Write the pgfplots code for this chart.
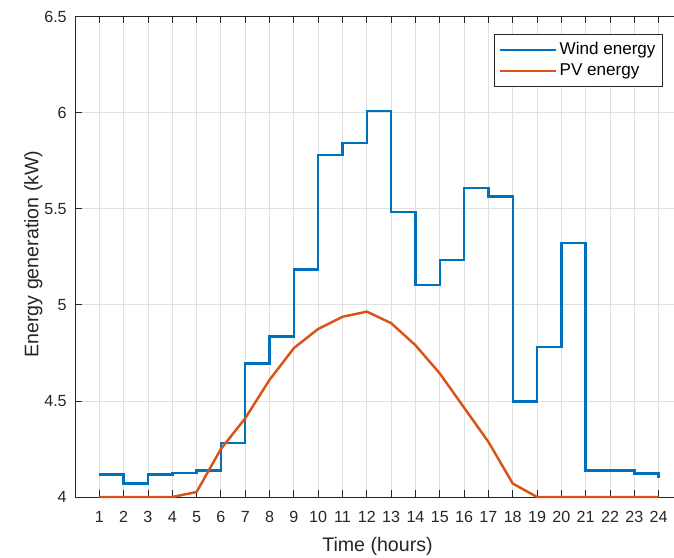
\documentclass[border=0pt]{standalone}
\usepackage{fontspec}
\setmainfont{Liberation Sans}
\usepackage{pgfplots}
\pgfplotsset{compat=1.18}

\definecolor{windblue}{rgb}{0,0.447,0.741}
\definecolor{pvorange}{rgb}{0.85,0.325,0.098}
\definecolor{axgray}{rgb}{0.15,0.15,0.15}
\definecolor{gridgray}{rgb}{0.88,0.88,0.88}

% hourly generation profiles
\pgfplotstableread{
hour wind pv
1  4.117 4.000
2  4.070 4.000
3  4.117 4.000
4  4.125 4.000
5  4.137 4.026
6  4.280 4.250
7  4.696 4.410
8  4.836 4.610
9  5.184 4.775
10 5.781 4.875
11 5.842 4.938
12 6.010 4.965
13 5.484 4.905
14 5.103 4.790
15 5.233 4.643
16 5.608 4.465
17 5.565 4.287
18 4.498 4.070
19 4.781 4.000
20 5.323 4.000
21 4.139 4.000
22 4.139 4.000
23 4.123 4.000
24 4.100 4.000
}\energydata

\begin{document}
\begin{tikzpicture}
\begin{axis}[
  scale only axis,
  width=434.1pt, height=342.9pt,
  xmin=0, xmax=25, ymin=4, ymax=6.5,
  clip=false,
  xtick={1,...,24},
  ytick={4,4.5,5,5.5,6,6.5},
  /pgf/number format/assume math mode=true,
  yticklabel style={/pgf/number format/fixed},
  tick align=inside,
  xtick pos=both, ytick pos=both,
  xticklabel pos=lower, yticklabel pos=left,
  major tick length=4.8pt,
  axis line style={axgray, line width=0.6pt},
  tick style={axgray, line width=0.6pt},
  grid=major,
  major grid style={gridgray, line width=0.6pt},
  ticklabel style={font=\fontsize{11.5}{13.8}\selectfont, text=axgray},
  xticklabel style={yshift=-6.5pt},
  yticklabel style={xshift=-2.4pt},
  xlabel={Time (hours)},
  ylabel={Energy generation (kW)},
  label style={font=\fontsize{14}{16.8}\selectfont, text=axgray},
  xlabel style={at={(axis description cs:0.4975,-0.1137)}, anchor=base},
  ylabel style={at={(axis description cs:-0.0604,0.506)}, anchor=base},
  legend style={
    at={(axis description cs:0.9671,0.9646)}, anchor=north east,
    draw=axgray, line width=0.6pt, fill=white,
    font=\fontsize{12.2}{14.6}\selectfont,
    inner xsep=3pt, inner ysep=4pt,
    row sep=1pt,
    cells={anchor=west},
  },
  legend image code/.code={\draw[#1] (0pt,0pt) -- (40pt,0pt);},
]
\addplot[const plot, windblue, line width=1.75pt, line join=miter] table[x=hour, y=wind] {\energydata};
\addlegendentry{Wind energy}
\addplot[pvorange, line width=1.75pt, line join=round] table[x=hour, y=pv] {\energydata};
\addlegendentry{PV energy}
\end{axis}
\pgfresetboundingbox
\path[use as bounding box] ([shift={(-53.55pt,-43.55pt)}]current axis.south west) rectangle ++(481.24pt,398.41pt);
\end{tikzpicture}
\end{document}
